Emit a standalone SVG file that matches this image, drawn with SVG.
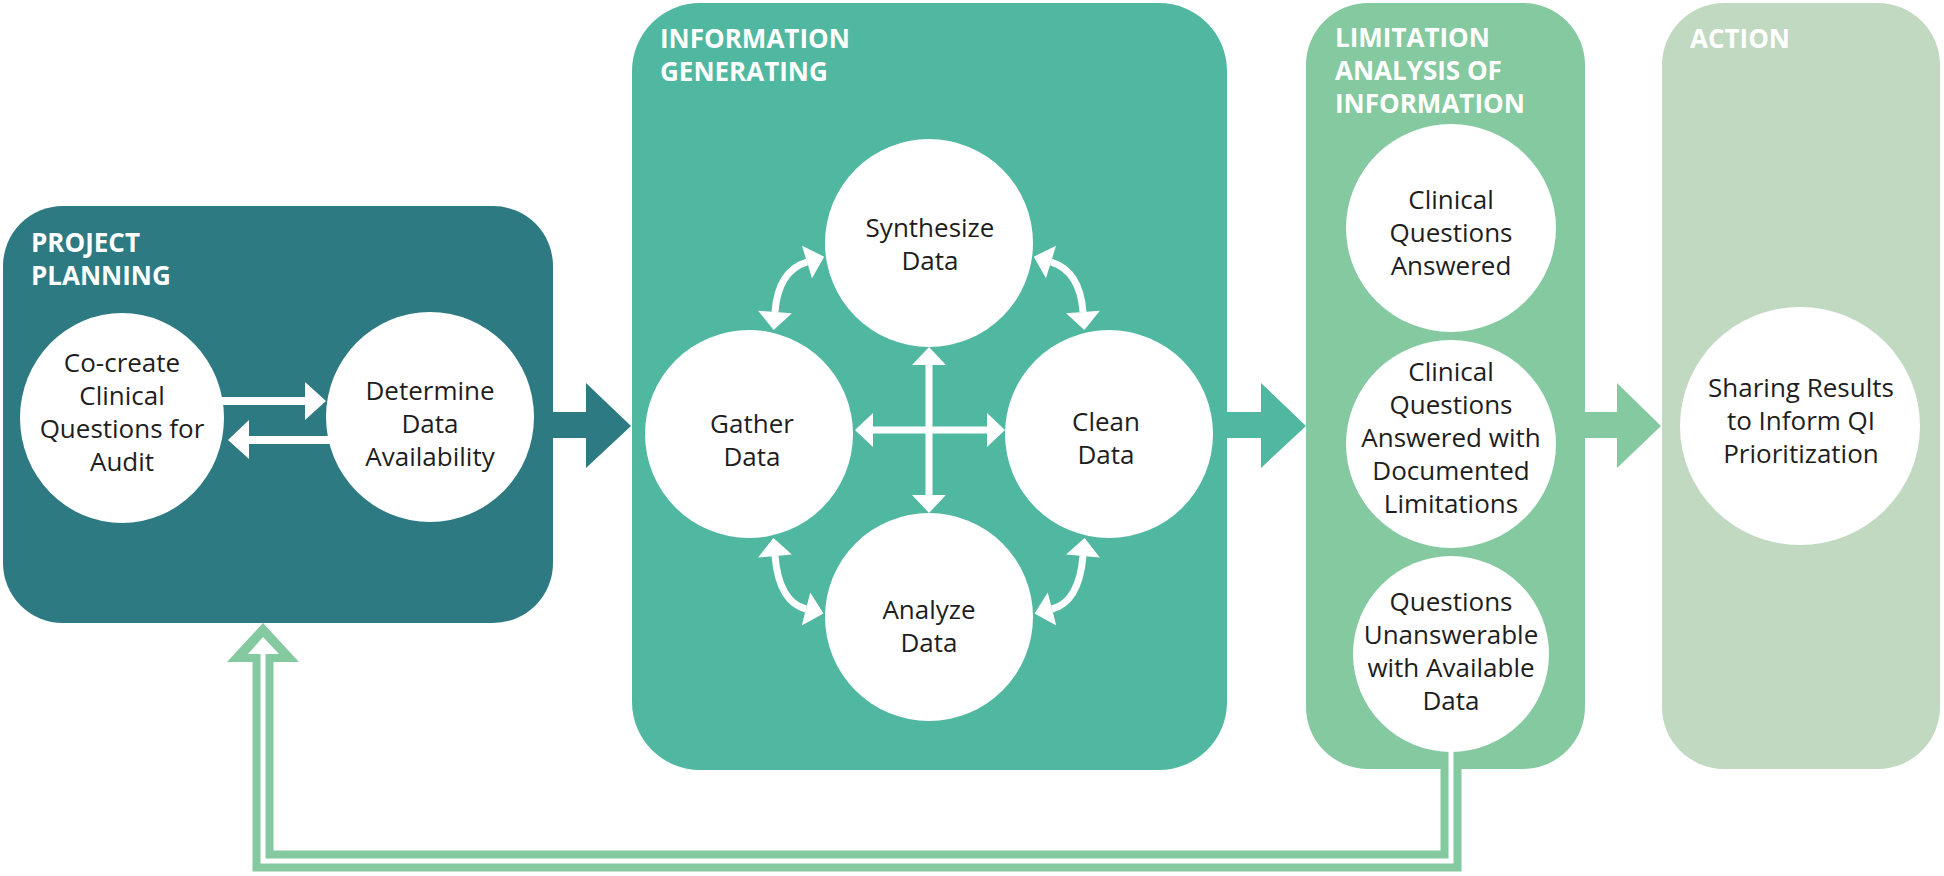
<svg xmlns="http://www.w3.org/2000/svg" width="1944" height="876" viewBox="0 0 1944 876">
<style>
.title{font-family:"Open Sans","Liberation Sans",sans-serif;font-weight:700;font-size:26px;fill:#ffffff}
.lbl{font-family:"Open Sans","Liberation Sans",sans-serif;font-size:26px;fill:#1e1e1e;text-anchor:middle}
.circ{fill:#ffffff}
.wline{fill:none;stroke:#ffffff;stroke-width:7;marker-start:url(#wh);marker-end:url(#wh)}
</style>
<defs>
<marker id="wh" markerUnits="userSpaceOnUse" markerWidth="20" markerHeight="36" viewBox="0 -17 18 34" refX="0" refY="0" orient="auto-start-reverse">
<path d="M0,-16 L17,0 L0,16 z" fill="#ffffff"/>
</marker>
</defs>
<rect width="1944" height="876" fill="#ffffff"/>

<g id="phase-project-planning">
<rect x="3" y="206" width="550" height="417" rx="60" fill="#2d7a82"/>
<text class="title"><tspan x="31" y="252">PROJECT</tspan><tspan x="31" y="285">PLANNING</tspan></text>
</g>
<g id="phase-information-generating">
<rect x="632" y="3" width="595" height="767" rx="68" fill="#50b8a0"/>
<text class="title"><tspan x="660" y="48">INFORMATION</tspan><tspan x="660" y="81">GENERATING</tspan></text>
</g>
<g id="phase-limitation-analysis">
<rect x="1306" y="3" width="279" height="766" rx="62" fill="#85c9a0"/>
<text class="title"><tspan x="1335" y="47">LIMITATION</tspan><tspan x="1335" y="80">ANALYSIS OF</tspan><tspan x="1335" y="113">INFORMATION</tspan></text>
</g>
<g id="phase-action">
<rect x="1662" y="3" width="278" height="766" rx="62" fill="#c2d9c1"/>
<text class="title" x="1690" y="48">ACTION</text>
</g>

<g id="connectors">
<polygon fill="#2d7a82" points="553,412 586,412 586,383 631,426 586,468 586,438 553,438"/>
<polygon fill="#50b8a0" points="1227,412 1261,412 1261,383 1306,426 1261,468 1261,438 1227,438"/>
<polygon fill="#85c9a0" points="1585,412 1617,412 1617,383 1661,426 1617,468 1617,438 1585,438"/>
<polygon fill="#ffffff" points="215,397 305,397 305,382 326,401 305,420 305,405 215,405"/>
<polygon fill="#ffffff" points="338,436 249,436 249,420 228,440 249,459 249,444 338,444"/>
<line class="wline" x1="929" y1="365" x2="929" y2="495"/>
<line class="wline" x1="873" y1="430" x2="987" y2="430"/>
<path class="wline" d="M775,312 Q778,271 807,262"/>
<path class="wline" d="M1083,312 Q1080,271 1051,262"/>
<path class="wline" d="M775,556 Q779,602 806,609"/>
<path class="wline" d="M1083,556 Q1079,602 1052,609"/>
<path d="M1451,740 V861 H263 V662" fill="none" stroke="#85c9a0" stroke-width="21" stroke-linejoin="miter"/>
<polygon fill="#85c9a0" points="263,623 227,662 299,662"/>
<path d="M1451,740 V861 H263 V654" fill="none" stroke="#ffffff" stroke-width="5" stroke-linejoin="miter"/>
<polygon fill="#ffffff" points="263,637 248,654 279,654"/>
</g>

<g id="node-cocreate">
<ellipse class="circ" cx="122" cy="418" rx="102" ry="105"/>
<text class="lbl"><tspan x="122" y="372">Co-create</tspan><tspan x="122" y="405">Clinical</tspan><tspan x="122" y="438">Questions for</tspan><tspan x="122" y="471">Audit</tspan></text>
</g>
<g id="node-determine">
<ellipse class="circ" cx="430" cy="417" rx="104" ry="105"/>
<text class="lbl"><tspan x="430" y="400">Determine</tspan><tspan x="430" y="433">Data</tspan><tspan x="430" y="466">Availability</tspan></text>
</g>
<g id="node-synthesize">
<ellipse class="circ" cx="929" cy="243" rx="104" ry="104"/>
<text class="lbl"><tspan x="930" y="237">Synthesize</tspan><tspan x="930" y="270">Data</tspan></text>
</g>
<g id="node-gather">
<ellipse class="circ" cx="749" cy="434" rx="104" ry="104"/>
<text class="lbl"><tspan x="752" y="433">Gather</tspan><tspan x="752" y="466">Data</tspan></text>
</g>
<g id="node-clean">
<ellipse class="circ" cx="1109" cy="434" rx="104" ry="104"/>
<text class="lbl"><tspan x="1106" y="431">Clean</tspan><tspan x="1106" y="464">Data</tspan></text>
</g>
<g id="node-analyze">
<ellipse class="circ" cx="929" cy="617" rx="104" ry="104"/>
<text class="lbl"><tspan x="929" y="619">Analyze</tspan><tspan x="929" y="652">Data</tspan></text>
</g>
<g id="node-answered">
<ellipse class="circ" cx="1451" cy="228" rx="105" ry="104"/>
<text class="lbl"><tspan x="1451" y="209">Clinical</tspan><tspan x="1451" y="242">Questions</tspan><tspan x="1451" y="275">Answered</tspan></text>
</g>
<g id="node-answered-limitations">
<ellipse class="circ" cx="1451" cy="444" rx="105" ry="104"/>
<text class="lbl"><tspan x="1451" y="381">Clinical</tspan><tspan x="1451" y="414">Questions</tspan><tspan x="1451" y="447">Answered with</tspan><tspan x="1451" y="480">Documented</tspan><tspan x="1451" y="513">Limitations</tspan></text>
</g>
<g id="node-unanswerable">
<ellipse class="circ" cx="1451" cy="654" rx="98" ry="98"/>
<text class="lbl"><tspan x="1451" y="611">Questions</tspan><tspan x="1451" y="644">Unanswerable</tspan><tspan x="1451" y="677">with Available</tspan><tspan x="1451" y="710">Data</tspan></text>
</g>
<g id="node-sharing">
<ellipse class="circ" cx="1800" cy="426" rx="120" ry="119"/>
<text class="lbl"><tspan x="1801" y="397">Sharing Results</tspan><tspan x="1801" y="430">to Inform QI</tspan><tspan x="1801" y="463">Prioritization</tspan></text>
</g>
</svg>
